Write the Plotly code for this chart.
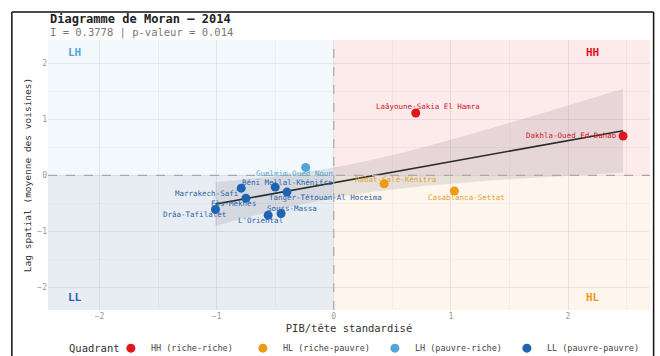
import numpy as np
import plotly.graph_objects as go

# ---- data ----
regions = ["Laâyoune-Sakia El Hamra", "Dakhla-Oued Ed-Dahab", "Rabat-Salé-Kénitra",
           "Casablanca-Settat", "Guelmim-Oued Noun", "Marrakech-Safi",
           "Béni Mellal-Khénifra", "Tanger-Tétouan-Al Hoceima", "Fès-Meknès",
           "Drâa-Tafilalet", "Souss-Massa", "L'Oriental"]
pib_z = [0.70, 2.47, 0.43, 1.03, -0.24, -0.79, -0.50, -0.40, -0.75, -1.01, -0.45, -0.56]
lag_z = [1.11, 0.70, -0.15, -0.28, 0.14, -0.23, -0.21, -0.30, -0.41, -0.61, -0.68, -0.71]
quadrant = ["HH", "HH", "HL", "HL", "LH", "LL", "LL", "LL", "LL", "LL", "LL", "LL"]
quad_names = ["HH", "HL", "LH", "LL"]
quad_labels = ["HH (riche-riche)", "HL (riche-pauvre)", "LH (pauvre-riche)", "LL (pauvre-pauvre)"]
moran_I = 0.3778
p_value = 0.014
year = 2014

# ---- styles ----
colors = {"HH": "#E0161D", "HL": "#EE9A12", "LH": "#52A6D6", "LL": "#1E64B4"}
label_colors = {"HH": "#D0202A", "HL": "#E0A030", "LH": "#5AA6D2", "LL": "#2A64A8"}
bg = {"HH": "rgba(235,80,90,0.12)", "HL": "rgba(245,170,70,0.10)",
      "LH": "rgba(170,205,230,0.15)", "LL": "rgba(120,150,190,0.17)"}
# pixel offsets of labels (repel-like placement)
label_off = {
    "Laâyoune-Sakia El Hamra": (12, 6), "Dakhla-Oued Ed-Dahab": (-52, 0),
    "Rabat-Salé-Kénitra": (11, 4), "Casablanca-Settat": (12, -6),
    "Guelmim-Oued Noun": (-11, -6), "Marrakech-Safi": (-35, -5),
    "Béni Mellal-Khénifra": (12, 5), "Tanger-Tétouan-Al Hoceima": (39, -5),
    "Fès-Meknès": (-12, -5), "Drâa-Tafilalet": (-21, -5),
    "Souss-Massa": (11, 5), "L'Oriental": (-8, -5),
}
XR = [-2.44, 2.70]
YR = [-2.40, 2.41]
MONO = "DejaVu Sans Mono"

fig = go.Figure()

# quadrant backgrounds
for q, (x0, x1, y0, y1) in {"HH": (0, XR[1], 0, YR[1]), "HL": (0, XR[1], YR[0], 0),
                            "LH": (XR[0], 0, 0, YR[1]), "LL": (XR[0], 0, YR[0], 0)}.items():
    fig.add_shape(type="rect", x0=x0, x1=x1, y0=y0, y1=y1, xref="x", yref="y",
                  fillcolor=bg[q], line_width=0, layer="below")

# regression + CI
x = np.array(pib_z); y = np.array(lag_z)
n = len(x)
b1, b0 = np.polyfit(x, y, 1)
xs = np.linspace(x.min(), x.max(), 80)
yhat = b0 + b1 * xs
res = y - (b0 + b1 * x)
s = np.sqrt(np.sum(res ** 2) / (n - 2))
sxx = np.sum((x - x.mean()) ** 2)
se = s * np.sqrt(1 / n + (xs - x.mean()) ** 2 / sxx)
tcrit = 2.228
fig.add_trace(go.Scatter(x=np.concatenate([xs, xs[::-1]]),
                         y=np.concatenate([yhat + tcrit * se, (yhat - tcrit * se)[::-1]]),
                         fill="toself", fillcolor="rgba(130,130,130,0.18)",
                         line=dict(width=0), hoverinfo="skip", showlegend=False))

# zero lines
fig.add_shape(type="line", x0=XR[0], x1=XR[1], y0=0, y1=0, xref="x", yref="y",
              line=dict(color="#A8A8A8", width=1.2, dash="dash"))
fig.add_shape(type="line", x0=0, x1=0, y0=YR[0], y1=YR[1], xref="x", yref="y",
              line=dict(color="#A8A8A8", width=1.2, dash="dash"))

fig.add_trace(go.Scatter(x=xs, y=yhat, mode="lines", line=dict(color="#2B2B2B", width=1.6),
                         hoverinfo="skip", showlegend=False))

# points per quadrant
for q, lab in zip(quad_names, quad_labels):
    idx = [i for i, qq in enumerate(quadrant) if qq == q]
    fig.add_trace(go.Scatter(x=[pib_z[i] for i in idx], y=[lag_z[i] for i in idx],
                             mode="markers", name=lab,
                             marker=dict(color=colors[q], size=9, line=dict(width=0))))

# labels
for r, xx, yy, q in zip(regions, pib_z, lag_z, quadrant):
    dx, dy = label_off[r]
    fig.add_annotation(x=xx, y=yy, text=r, showarrow=False, xshift=dx, yshift=dy,
                       font=dict(family=MONO, size=7.5, color=label_colors[q]))

# corner labels
for q, (xx, yy) in {"LH": (-2.21, 2.18), "HH": (2.21, 2.18),
                    "LL": (-2.21, -2.18), "HL": (2.21, -2.18)}.items():
    fig.add_annotation(x=xx, y=yy, text="<b>%s</b>" % q, showarrow=False,
                       font=dict(family=MONO, size=11, color=colors[q]))

# title / subtitle
fig.add_annotation(x=0, y=1.078, xref="paper", yref="paper", xanchor="left", yanchor="middle",
                   text="<b>Diagramme de Moran — %d</b>" % year, showarrow=False,
                   font=dict(family=MONO, size=12, color="#222"))
fig.add_annotation(x=0, y=1.028, xref="paper", yref="paper", xanchor="left", yanchor="middle",
                   text="I = %.4f | p-valeur = %.3f" % (moran_I, p_value), showarrow=False,
                   font=dict(family=MONO, size=10.5, color="#777"))

# legend title
fig.add_annotation(x=0.0316, y=-0.1407, xref="paper", yref="paper", xanchor="left", yanchor="middle",
                   text="Quadrant", showarrow=False,
                   font=dict(family=MONO, size=10.5, color="#333"))

# frame around the image
for (x0, y0, x1, y1) in [(-0.06, -0.25, -0.06, 1.104), (-0.06, 1.104, 1.006, 1.104),
                         (1.006, 1.104, 1.006, -0.25)]:
    fig.add_shape(type="line", xref="paper", yref="paper", x0=x0, y0=y0, x1=x1, y1=y1,
                  line=dict(color="#111", width=1.5))

axis_common = dict(showline=False, zeroline=False, ticks="", tickfont=dict(family=MONO, size=8, color="#999"),
                   gridcolor="rgba(0,0,0,0.07)", gridwidth=0.8,
                   minor=dict(showgrid=True, gridcolor="rgba(0,0,0,0.035)", dtick=0.5))
fig.update_xaxes(range=XR, dtick=1, tick0=0, **axis_common,
                 title=dict(text="PIB/tête standardisé", standoff=10,
                            font=dict(family=MONO, size=10.5, color="#333")))
fig.update_yaxes(range=YR, dtick=1, tick0=0, **axis_common,
                 title=dict(text="Lag spatial (moyenne des voisines)", standoff=4,
                            font=dict(family=MONO, size=9.5, color="#333")))

fig.update_layout(
    width=660, height=356, margin=dict(l=48, r=10, t=40, b=46, autoexpand=False),
    paper_bgcolor="white", plot_bgcolor="white",
    legend=dict(orientation="h", xref="container", yref="container",
                x=0.168, y=0.022, xanchor="left", yanchor="middle",
                font=dict(family=MONO, size=8.5, color="#444"), itemwidth=30,
                entrywidth=87, entrywidthmode="pixels", tracegroupgap=0),
    showlegend=True,
)

fig.write_html("out.html")
